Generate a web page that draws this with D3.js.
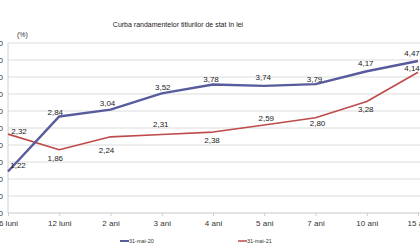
<!DOCTYPE html>
<html>
<head>
<meta charset="utf-8">
<script src="https://cdn.jsdelivr.net/npm/d3@7"></script>
<style>
  body { margin: 0; background: #fff; }
  svg { font-family: "Liberation Sans", Arial, sans-serif; display: block; }
</style>
</head>
<body>
<div id="container"></div>
<script>
const categories = ['6 luni', '12 luni', '2 ani', '3 ani', '4 ani', '5 ani', '7 ani', '10 ani', '15 ani'];
const seriesNames = ['31-mai-20', '31-mai-21'];
const may20 = [1.22, 2.84, 3.04, 3.52, 3.78, 3.74, 3.79, 4.17, 4.47];
const may21 = [2.32, 1.86, 2.24, 2.31, 2.38, 2.59, 2.80, 3.28, 4.14];
const yTicks = [0, 0.5, 1, 1.5, 2, 2.5, 3, 3.5, 4, 4.5, 5];
// label offsets (dx, dy) per point
const off20 = [[10, -6], [-4, -4], [-3, -6], [1, -6], [-2, -5], [-1, -9], [-1, -5], [-1, -8], [-6, -8]];
const off21 = [[11, -3], [-4, 8], [-4, 13], [-1, -10], [-1, 8], [2, -7], [2, 5], [-1, 8], [-6, -4]];

const W = 420, H = 250;
const margin = { top: 43, right: 2, bottom: 37, left: 8 };
const width = W - margin.left - margin.right,
  height = H - margin.top - margin.bottom;

const svg = d3.select('#container').append('svg')
  .attr('width', W)
  .attr('height', H);

const c = svg.append('g')
  .attr('transform', `translate(${margin.left},${margin.top})`);

const xScale = d3.scalePoint().domain(categories).range([0, width]).padding(0);
const yScale = d3.scaleLinear().domain([0, 5]).range([height, 0]);
const fmt = v => d3.format('.2f')(v).replace('.', ',');

// gridlines
c.append('g')
  .selectAll('line')
  .data(yTicks.slice(1))
  .join('line')
  .attr('x1', 0).attr('x2', width + margin.right)
  .attr('y1', d => yScale(d)).attr('y2', d => yScale(d))
  .attr('stroke', '#dcdcdc')
  .attr('stroke-width', 1);

// y axis labels (mostly clipped at left edge, as in the source)
c.append('g')
  .selectAll('text')
  .data(yTicks)
  .join('text')
  .attr('x', -5)
  .attr('y', d => yScale(d))
  .attr('dy', '0.35em')
  .attr('text-anchor', 'end')
  .attr('font-size', 8)
  .attr('fill', '#333')
  .text(fmt);

// axes lines
c.append('line')
  .attr('x1', 0).attr('x2', 0).attr('y1', 0).attr('y2', height)
  .attr('stroke', '#d0d0d0');
c.append('line')
  .attr('x1', 0).attr('x2', width + margin.right).attr('y1', height).attr('y2', height)
  .attr('stroke', '#c8c8c8');

c.append('g')
  .attr('transform', `translate(0, ${height})`)
  .call(d3.axisBottom(xScale).tickSize(3).tickPadding(4))
  .call(g => g.select('.domain').remove())
  .call(g => g.selectAll('line').attr('stroke', '#ccc'))
  .call(g => g.selectAll('text')
    .attr('font-family', '"Liberation Sans", Arial, sans-serif')
    .attr('font-size', 8)
    .attr('fill', '#333'));

const line = d3.line()
  .x((d, i) => xScale(categories[i]))
  .y(d => yScale(d));

const series = [
  { name: seriesNames[0], values: may20, color: '#585c9c', w: 2.4, off: off20 },
  { name: seriesNames[1], values: may21, color: '#bf4b4b', w: 1.6, off: off21 }
];

series.slice().reverse().forEach(s => {
  c.append('path')
    .datum(s.values)
    .attr('fill', 'none')
    .attr('stroke', s.color)
    .attr('stroke-width', s.w)
    .attr('stroke-linejoin', 'round')
    .attr('d', line);
});

series.forEach(s => {
  c.append('g')
    .selectAll('text')
    .data(s.values)
    .join('text')
    .attr('x', (d, i) => xScale(categories[i]) + s.off[i][0])
    .attr('y', (d, i) => yScale(d) + s.off[i][1])
    .attr('dy', '0.35em')
    .attr('text-anchor', 'middle')
    .attr('font-size', 8)
    .attr('fill', '#222')
    .text(fmt);
});

// title and unit
svg.append('text')
  .attr('x', 178).attr('y', 27)
  .attr('text-anchor', 'middle')
  .attr('font-size', 7)
  .attr('fill', '#222')
  .text('Curba randamentelor titlurilor de stat în lei');

svg.append('text')
  .attr('x', 17).attr('y', 37)
  .attr('font-size', 7)
  .attr('fill', '#333')
  .text('(%)');

// legend
const legend = svg.append('g').attr('transform', 'translate(0, 241)');
const legX = [120, 238];
series.forEach((s, i) => {
  legend.append('line')
    .attr('x1', legX[i]).attr('x2', legX[i] + 9)
    .attr('stroke', s.color)
    .attr('stroke-width', i === 0 ? 2 : 1.5);
  legend.append('text')
    .attr('x', legX[i] + 9)
    .attr('dy', '0.35em')
    .attr('font-size', 5.5)
    .attr('fill', '#333')
    .text(s.name);
});
</script>
</body>
</html>
